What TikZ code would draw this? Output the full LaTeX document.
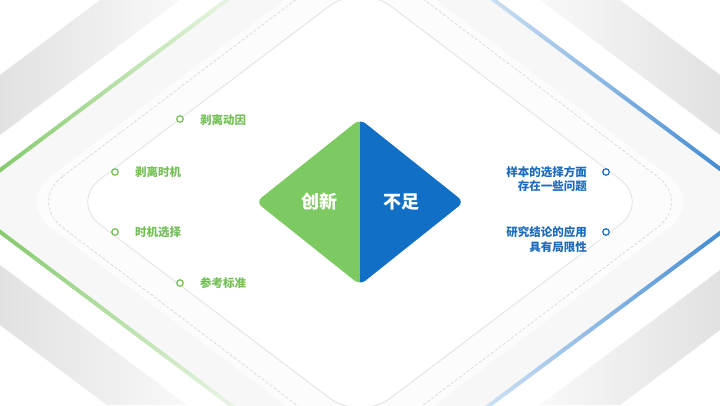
\documentclass[tikz,border=0pt]{standalone}
\usepackage{fontspec}
\newfontfamily\cjk{Noto Sans CJK SC}
\definecolor{gstrong}{HTML}{74C357}
\definecolor{bstrong}{HTML}{2A7CCD}
\definecolor{gfill}{HTML}{7DC962}
\definecolor{bfill}{HTML}{1170C6}
\definecolor{gtext}{HTML}{74BF58}
\definecolor{btext}{HTML}{1C6BBC}
\definecolor{banddark}{HTML}{E1E1E1}
\definecolor{bandlight}{HTML}{F9F9F9}
\definecolor{faint}{HTML}{F7F7F7}
\definecolor{innerfill}{HTML}{FCFCFC}
\definecolor{outlinec}{HTML}{E2E2E2}
\definecolor{dashc}{HTML}{D4D4D4}
\tikzset{
  gdot/.style={circle, draw=gtext, line width=1.2pt, fill=white, minimum size=6.5pt, inner sep=0pt},
  bdot/.style={circle, draw=btext, line width=1.2pt, fill=white, minimum size=6.5pt, inner sep=0pt},
  glabel/.style={inner sep=0pt, anchor=west, text=gtext, font=\cjk\bfseries\fontsize{11.5}{14}\selectfont},
  blabel/.style={inner sep=0pt, anchor=east, align=right, text=btext, font=\cjk\bfseries\fontsize{11.5}{14.4}\selectfont},
  dlabel/.style={inner sep=0pt, text=white, font=\cjk\bfseries\fontsize{18}{20}\selectfont},
  dashline/.style={draw=dashc, line width=0.6pt, dash pattern=on 3pt off 2pt},
  thinline/.style={draw=outlinec, line width=0.8pt}
}
\begin{document}
\begin{tikzpicture}[x=1pt,y=-1pt]
\useasboundingbox (0,0) rectangle (720,405);
\clip (0,0) rectangle (720,405);
\fill[white] (0,0) rectangle (720,405);
% large light region bounded by coloured lines
\fill[faint] (-41,201) -- (360,-100) -- (763,201) -- (360,502) -- cycle;
% grey corner bands
\shade[left color=banddark, right color=bandlight] (0,75) -- (100,0) -- (180,0) -- (0,135) -- cycle;
\shade[left color=banddark, right color=bandlight] (0,265) -- (187,405) -- (107,405) -- (0,325) -- cycle;
\shade[left color=bandlight, right color=banddark] (540,0) -- (620,0) -- (720,75) -- (720,135) -- cycle;
\shade[left color=bandlight, right color=banddark] (540,405) -- (720,270) -- (720,330) -- (620,405) -- cycle;
% coloured lines
\shade[left color=gstrong, middle color=gstrong, right color=gstrong!15!white]
  (-42.2,199.4) -- (233.8,-7.77) -- (236.2,-4.57) -- (-39.8,202.6) -- cycle;
\shade[left color=gstrong, middle color=gstrong, right color=gstrong!15!white]
  (-39.8,199.4) -- (236.2,406.6) -- (233.8,409.8) -- (-42.2,202.6) -- cycle;
\shade[left color=bstrong!22!white, middle color=bstrong!92!white, right color=bstrong]
  (486.2,-8.24) -- (764.2,199.4) -- (761.8,202.6) -- (483.8,-5.04) -- cycle;
\shade[left color=bstrong!22!white, middle color=bstrong!92!white, right color=bstrong]
  (483.8,407) -- (761.8,199.4) -- (764.2,202.6) -- (486.2,410.2) -- cycle;
% inner rounded frames
\fill[innerfill, rounded corners=42pt] (17,202) -- (360,-58) -- (703,202) -- (360,462) -- cycle;
\path[dashline, rounded corners=42pt] (29,202) -- (360,-49) -- (691,202) -- (360,453) -- cycle;
\path[thinline, fill=white, rounded corners=38pt] (70,202) -- (360,-17) -- (650,202) -- (360,421) -- cycle;
% central diamond
\begin{scope}
  \clip (0,0) rectangle (360,405);
  \fill[gfill, rounded corners=7pt] (256,202) -- (360,119) -- (464,202) -- (360,285) -- cycle;
\end{scope}
\begin{scope}
  \clip (360,0) rectangle (720,405);
  \fill[bfill, rounded corners=7pt] (256,202) -- (360,119) -- (464,202) -- (360,285) -- cycle;
\end{scope}
\node[dlabel] (cx) at (319,202) {创新};
\node[dlabel] (bz) at (401,202) {不足};
% left points
\node[gdot] (d1) at (180,119) {};
\node[gdot] (d2) at (115,172) {};
\node[gdot] (d3) at (115,232) {};
\node[gdot] (d4) at (180,283) {};
\node[glabel] (l1) at (200,120) {剥离动因};
\node[glabel] (l2) at (135,172) {剥离时机};
\node[glabel] (l3) at (135,232) {时机选择};
\node[glabel] (l4) at (200,283) {参考标准};
% right points
\node[bdot] (d5) at (606,172) {};
\node[bdot] (d6) at (606,232) {};
\node[blabel] (r1) at (587,179) {样本的选择方面\\存在一些问题};
\node[blabel] (r2) at (587,239.5) {研究结论的应用\\具有局限性};
\end{tikzpicture}
\end{document}
